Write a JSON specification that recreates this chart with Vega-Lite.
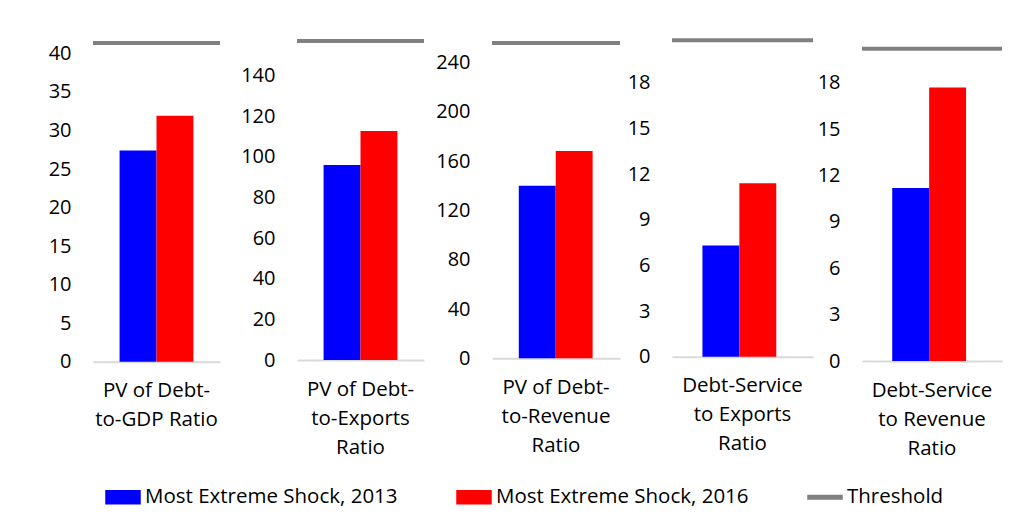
{
  "$schema": "https://vega.github.io/schema/vega-lite/v6.json",
  "padding": {"left": 5, "top": 38, "right": 5, "bottom": 5},
  "background": "white",
  "spacing": 0,
  "config": {
    "view": {"stroke": null},
    "font": "Open Sans",
    "axis": {"labelFont": "Open Sans", "labelColor": "#000000", "ticks": false, "grid": false, "title": null},
    "axisY": {"domain": false, "labelFontSize": 20, "labelPadding": 22},
    "axisX": {"domain": true, "domainColor": "#d9d9d9", "domainWidth": 2, "labelFontSize": 20.5, "labelPadding": 19, "labelLineHeight": 29, "labelAngle": 0, "labelBaseline": "top"}
  },
  "datasets": {
    "bars": [
      {"panel": 1, "indicator": "PV of Debt-\nto-GDP Ratio", "series": "Most Extreme Shock, 2013", "value": 27.4},
      {"panel": 1, "indicator": "PV of Debt-\nto-GDP Ratio", "series": "Most Extreme Shock, 2016", "value": 31.9},
      {"panel": 2, "indicator": "PV of Debt-\nto-Exports\nRatio", "series": "Most Extreme Shock, 2013", "value": 96.0},
      {"panel": 2, "indicator": "PV of Debt-\nto-Exports\nRatio", "series": "Most Extreme Shock, 2016", "value": 112.8},
      {"panel": 3, "indicator": "PV of Debt-\nto-Revenue\nRatio", "series": "Most Extreme Shock, 2013", "value": 140.0},
      {"panel": 3, "indicator": "PV of Debt-\nto-Revenue\nRatio", "series": "Most Extreme Shock, 2016", "value": 168.3},
      {"panel": 4, "indicator": "Debt-Service\nto Exports\nRatio", "series": "Most Extreme Shock, 2013", "value": 7.3},
      {"panel": 4, "indicator": "Debt-Service\nto Exports\nRatio", "series": "Most Extreme Shock, 2016", "value": 11.4},
      {"panel": 5, "indicator": "Debt-Service\nto Revenue\nRatio", "series": "Most Extreme Shock, 2013", "value": 11.2},
      {"panel": 5, "indicator": "Debt-Service\nto Revenue\nRatio", "series": "Most Extreme Shock, 2016", "value": 17.7}
    ],
    "thresholds": [
      {"panel": 1, "series": "Threshold", "value": 41.35},
      {"panel": 2, "series": "Threshold", "value": 157.1},
      {"panel": 3, "series": "Threshold", "value": 256},
      {"panel": 4, "series": "Threshold", "value": 20.8},
      {"panel": 5, "series": "Threshold", "value": 20.2}
    ]
  },
  "hconcat": [
    {
      "width": 127, "height": 323.7,
      "layer": [
        {
          "data": {"name": "bars"}, "transform": [{"filter": "datum.panel == 1"}],
          "mark": {"type": "bar"},
          "encoding": {
            "x": {"field": "indicator", "type": "nominal", "scale": {"paddingOuter": 0.36, "paddingInner": 0}, "axis": {"labelExpr": "split(datum.label, '\\n')"}},
            "xOffset": {"field": "series", "type": "nominal", "scale": {"paddingInner": 0, "paddingOuter": 0}},
            "y": {"field": "value", "type": "quantitative", "scale": {"domain": [0, 42.0], "nice": false}, "axis": {"values": [0, 5, 10, 15, 20, 25, 30, 35, 40], "minExtent": 88, "maxExtent": 88}},
            "color": {"field": "series", "type": "nominal",
              "scale": {"domain": ["Most Extreme Shock, 2013", "Most Extreme Shock, 2016", "Threshold"], "range": ["#0000FF", "#FF0000", "#808080"]},
              "legend": {
                "title": null, "orient": "none", "legendX": 12, "legendY": 441, "direction": "horizontal",
                "columnPadding": 56, "labelFontSize": 20.5, "labelFont": "Open Sans", "labelColor": "#000000", "labelOffset": 4, "labelLimit": 0,
                "symbolSize": 1156,
                "encode": {"symbols": {"update": {
                  "shape": {"signal": "datum.value === 'Threshold' ? 'M-1,-0.11H1V0.11H-1Z' : 'M-1,-0.38H1V0.38H-1Z'"},
                  "fill": {"signal": "datum.value === 'Threshold' ? '#808080' : (datum.value === 'Most Extreme Shock, 2013' ? '#0000FF' : '#FF0000')"},
                  "stroke": {"value": "transparent"},
                  "opacity": {"value": 1}
                }}}
              }
            }
          }
        },
        {
          "data": {"name": "thresholds"}, "transform": [{"filter": "datum.panel == 1"}],
          "mark": {"type": "rule", "strokeWidth": 4},
          "encoding": {
            "y": {"field": "value", "type": "quantitative"},
            "color": {"field": "series", "type": "nominal"}
          }
        }
      ]
    },
    {
      "width": 127, "height": 322,
      "layer": [
        {
          "data": {"name": "bars"}, "transform": [{"filter": "datum.panel == 2"}],
          "mark": {"type": "bar"},
          "encoding": {
            "x": {"field": "indicator", "type": "nominal", "scale": {"paddingOuter": 0.36, "paddingInner": 0}, "axis": {"labelExpr": "split(datum.label, '\\n')"}},
            "xOffset": {"field": "series", "type": "nominal", "scale": {"paddingInner": 0, "paddingOuter": 0}},
            "y": {"field": "value", "type": "quantitative", "scale": {"domain": [0, 158.6], "nice": false}, "axis": {"values": [0, 20, 40, 60, 80, 100, 120, 140], "minExtent": 75, "maxExtent": 75}},
            "color": {"field": "series", "type": "nominal"}
          }
        },
        {
          "data": {"name": "thresholds"}, "transform": [{"filter": "datum.panel == 2"}],
          "mark": {"type": "rule", "strokeWidth": 4},
          "encoding": {
            "y": {"field": "value", "type": "quantitative"},
            "color": {"field": "series", "type": "nominal"}
          }
        }
      ]
    },
    {
      "width": 128, "height": 320.3,
      "layer": [
        {
          "data": {"name": "bars"}, "transform": [{"filter": "datum.panel == 3"}],
          "mark": {"type": "bar"},
          "encoding": {
            "x": {"field": "indicator", "type": "nominal", "scale": {"paddingOuter": 0.36, "paddingInner": 0}, "axis": {"labelExpr": "split(datum.label, '\\n')"}},
            "xOffset": {"field": "series", "type": "nominal", "scale": {"paddingInner": 0, "paddingOuter": 0}},
            "y": {"field": "value", "type": "quantitative", "scale": {"domain": [0, 260], "nice": false}, "axis": {"values": [0, 40, 80, 120, 160, 200, 240], "minExtent": 66, "maxExtent": 66}},
            "color": {"field": "series", "type": "nominal"}
          }
        },
        {
          "data": {"name": "thresholds"}, "transform": [{"filter": "datum.panel == 3"}],
          "mark": {"type": "rule", "strokeWidth": 4},
          "encoding": {
            "y": {"field": "value", "type": "quantitative"},
            "color": {"field": "series", "type": "nominal"}
          }
        }
      ]
    },
    {
      "width": 141, "height": 318.7,
      "layer": [
        {
          "data": {"name": "bars"}, "transform": [{"filter": "datum.panel == 4"}],
          "mark": {"type": "bar"},
          "encoding": {
            "x": {"field": "indicator", "type": "nominal", "scale": {"paddingOuter": 0.38, "paddingInner": 0}, "axis": {"labelExpr": "split(datum.label, '\\n')"}},
            "xOffset": {"field": "series", "type": "nominal", "scale": {"paddingInner": 0, "paddingOuter": 0}},
            "y": {"field": "value", "type": "quantitative", "scale": {"domain": [0, 20.94], "nice": false}, "axis": {"values": [0, 3, 6, 9, 12, 15, 18], "minExtent": 50, "maxExtent": 50}},
            "color": {"field": "series", "type": "nominal"}
          }
        },
        {
          "data": {"name": "thresholds"}, "transform": [{"filter": "datum.panel == 4"}],
          "mark": {"type": "rule", "strokeWidth": 4},
          "encoding": {
            "y": {"field": "value", "type": "quantitative"},
            "color": {"field": "series", "type": "nominal"}
          }
        }
      ]
    },
    {
      "width": 140, "height": 323,
      "layer": [
        {
          "data": {"name": "bars"}, "transform": [{"filter": "datum.panel == 5"}],
          "mark": {"type": "bar"},
          "encoding": {
            "x": {"field": "indicator", "type": "nominal", "scale": {"paddingOuter": 0.38, "paddingInner": 0}, "axis": {"labelExpr": "split(datum.label, '\\n')"}},
            "xOffset": {"field": "series", "type": "nominal", "scale": {"paddingInner": 0, "paddingOuter": 0}},
            "y": {"field": "value", "type": "quantitative", "scale": {"domain": [0, 20.9], "nice": false}, "axis": {"values": [0, 3, 6, 9, 12, 15, 18], "minExtent": 47, "maxExtent": 47}},
            "color": {"field": "series", "type": "nominal"}
          }
        },
        {
          "data": {"name": "thresholds"}, "transform": [{"filter": "datum.panel == 5"}],
          "mark": {"type": "rule", "strokeWidth": 4},
          "encoding": {
            "y": {"field": "value", "type": "quantitative"},
            "color": {"field": "series", "type": "nominal"}
          }
        }
      ]
    }
  ]
}
